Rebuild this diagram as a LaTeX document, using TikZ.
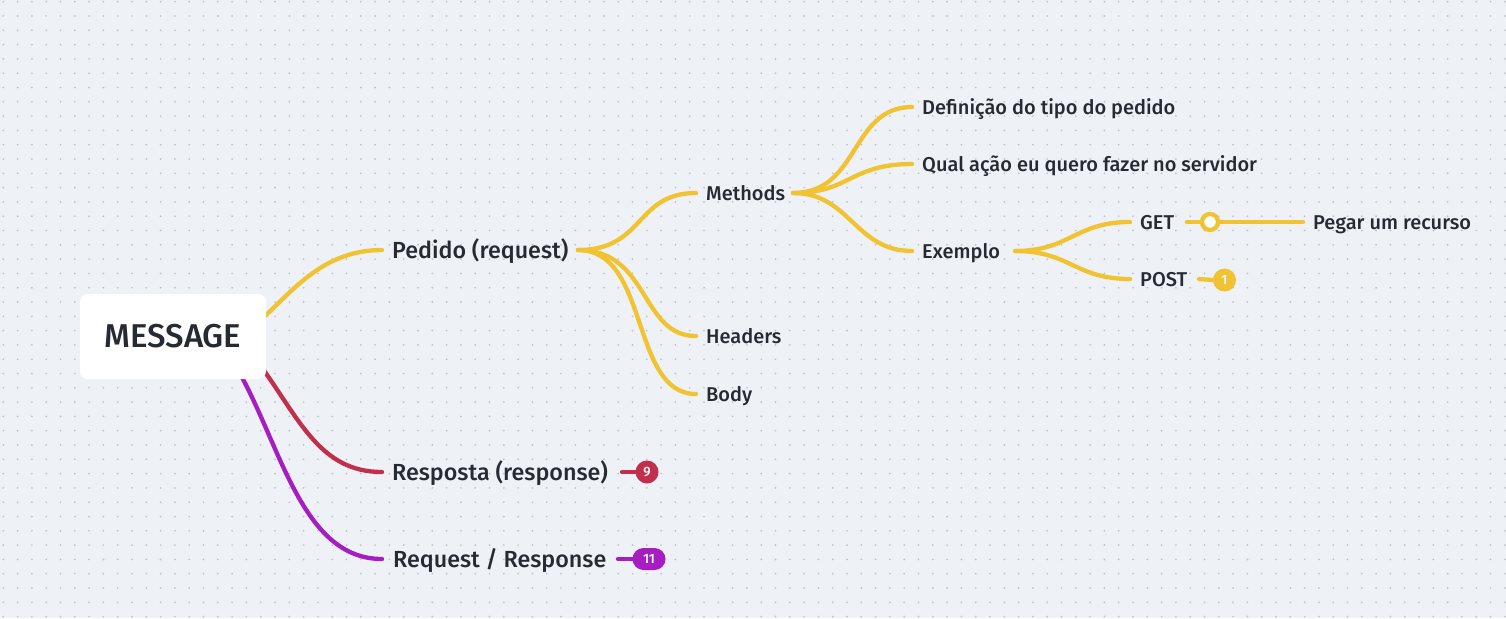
\documentclass[tikz,border=0pt]{standalone}
\usepackage{fontspec}
\setmainfont{Fira Sans}[UprightFont=* Medium]
\definecolor{bg}{HTML}{EEF1F5}
\definecolor{dotc}{HTML}{BCC2C9}
\definecolor{ink}{HTML}{262B33}
\definecolor{yel}{HTML}{F1C232}
\definecolor{redc}{HTML}{C0304C}
\definecolor{purc}{HTML}{A61DC1}
\begin{document}
\begin{tikzpicture}[x=1pt,y=-1pt,
  branch/.style={line width=4.3pt, line cap=round, draw=#1},
  lbl/.style={anchor=base west, inner sep=0pt, text=ink, font=\fontsize{20}{24}\selectfont},
  biglbl/.style={anchor=base west, inner sep=0pt, text=ink, font=\fontsize{23.3}{26}\selectfont},
  badge/.style={circle, fill=#1, text=white, inner sep=0pt, minimum size=23pt, font=\fontsize{13.5}{14}\selectfont},
  pill/.style={rounded corners=11pt, fill=#1, text=white, inner sep=0pt, minimum height=22pt, minimum width=33pt, font=\fontsize{13.5}{14}\selectfont},
  rootbox/.style={fill=white, rounded corners=8pt, minimum width=186pt, minimum height=85pt, text=ink, font=\fontsize{33}{36}\selectfont}
]
\fill[bg] (0,0) rectangle (1506,618);
\useasboundingbox (0,0) rectangle (1506,618);
\foreach \i in {0,...,105}{
  \foreach \j in {0,...,43}{
    \fill[dotc] ({3.3+14.3*\i},{1.7+14.3*\j}) circle (0.95pt);
  }
}
% coordinates
\coordinate (rootA) at (255,325);
\coordinate (rootB) at (258,362);
\coordinate (rootC) at (235,365);
\coordinate (pedL) at (382,250);
\coordinate (pedR) at (578,250);
\coordinate (methL) at (696,193);
\coordinate (methR) at (793,193);
\coordinate (headL) at (696,336);
\coordinate (bodyL) at (696,394);
\coordinate (defL) at (912,107);
\coordinate (qualL) at (912,164);
\coordinate (exL) at (912,251);
\coordinate (exR) at (1015,251);
\coordinate (getL) at (1130,222);
\coordinate (getR) at (1187,222);
\coordinate (postL) at (1130,279);
\coordinate (postR) at (1199,279);
\coordinate (pegL) at (1303,222);
\coordinate (resL) at (382,472);
\coordinate (resR) at (622,472);
\coordinate (rrL) at (382,559);
\coordinate (rrR) at (618,559);
% connectors
\draw[branch=yel] (rootA) .. controls (290,295) and (320,250) .. (pedL);
\draw[branch=redc] (rootB) .. controls (300,420) and (320,472) .. (resL);
\draw[branch=purc] (rootC) .. controls (280,440) and (300,559) .. (rrL);
\draw[branch=yel] (pedR) .. controls (645,250) and (635,193) .. (methL);
\draw[branch=yel] (pedR) .. controls (650,250) and (640,336) .. (headL);
\draw[branch=yel] (pedR) .. controls (650,250) and (630,394) .. (bodyL);
\draw[branch=yel] (methR) .. controls (860,193) and (850,107) .. (defL);
\draw[branch=yel] (methR) .. controls (850,193) and (850,164) .. (qualL);
\draw[branch=yel] (methR) .. controls (850,193) and (855,251) .. (exL);
\draw[branch=yel] (exR) .. controls (1070,251) and (1075,222) .. (getL);
\draw[branch=yel] (exR) .. controls (1070,251) and (1075,279) .. (postL);
\draw[branch=yel] (getR) -- (pegL);
\node[circle, draw=yel, line width=4.3pt, fill=white, minimum size=16pt, inner sep=0pt] (toggle) at (1210,222) {};
% badges
\node[badge=yel] (postbadge) at (1224.5,280) {1};
\draw[branch=yel] (postR) -- (postbadge.west);
\node[badge=redc] (resbadge) at (647,472) {9};
\draw[branch=redc] (resR) -- (resbadge.west);
\node[pill=purc] (rrbadge) at (649,559) {11};
\draw[branch=purc] (rrR) -- (rrbadge.west);
% root
\node[rootbox] (root) at (173,336.5) {MESSAGE};
% labels
\node[biglbl] (pedido) at (392,258) {Pedido (request)};
\node[lbl] (methods) at (706,200) {Methods};
\node[lbl] (headers) at (706,343) {Headers};
\node[lbl] (body) at (706,401) {Body};
\node[lbl] (def) at (922,114) {Definição do tipo do pedido};
\node[lbl] (qual) at (922,171) {Qual ação eu quero fazer no servidor};
\node[lbl] (exemplo) at (922,258) {Exemplo};
\node[lbl] (get) at (1140,229) {GET};
\node[lbl] (post) at (1140,286) {POST};
\node[lbl] (pegar) at (1313,229) {Pegar um recurso};
\node[biglbl] (resposta) at (392,480) {Resposta (response)};
\node[biglbl] (reqres) at (393,567) {Request / Response};
\end{tikzpicture}
\end{document}
